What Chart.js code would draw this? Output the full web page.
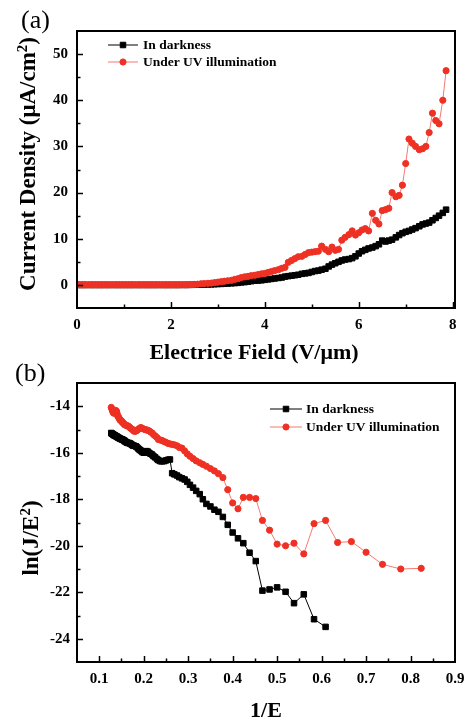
<!DOCTYPE html>
<html>
<head>
<meta charset="utf-8">
<script src="https://cdn.jsdelivr.net/npm/chart.js@4.4.1/dist/chart.umd.min.js"></script>
<style>
  html, body { margin: 0; padding: 0; background: #fff; }
  #fig { position: relative; width: 465px; height: 720px; overflow: hidden; font-family: 'Liberation Serif', 'DejaVu Serif', serif; color: #000; }
  canvas { position: absolute; left: 0; }
  .lbl { position: absolute; white-space: nowrap; }
  .panel { font-size: 26px; }
  .title { font-weight: bold; font-size: 22px; transform: translate(-50%, -50%); }
  .vtitle { font-weight: bold; font-size: 23px; transform: translate(-50%, -50%) rotate(-90deg); }
  sup { font-size: 0.65em; vertical-align: 0.55em; line-height: 0; }
</style>
</head>
<body>
<div id="fig">
  <canvas id="chartA" width="465" height="340" style="top:0"></canvas>
  <canvas id="chartB" width="465" height="340" style="top:360px"></canvas>

  <div class="lbl panel" style="left:21px; top:5px;">(a)</div>
  <div class="lbl vtitle" style="left:28px; top:164px;">Current Density (&mu;A/cm<sup>2</sup>)</div>
  <div class="lbl title" style="left:254px; top:352px;">Electrice Field (V/&mu;m)</div>

  <div class="lbl panel" style="left:15px; top:358px;">(b)</div>
  <div class="lbl vtitle" style="left:31px; top:538px;">ln(J/E<sup>2</sup>)</div>
  <div class="lbl title" style="left:266px; top:710px;">1/E</div>
</div>

<script>
// ---- panel (a): J vs E ----
const fieldE = [0, 0.07, 0.14, 0.21, 0.29, 0.36, 0.43, 0.5, 0.57, 0.64, 0.71, 0.79, 0.86, 0.93, 1.0,
  1.07, 1.14, 1.21, 1.29, 1.36, 1.43, 1.5, 1.57, 1.64, 1.71, 1.79, 1.86, 1.93, 2.0,
  2.07, 2.14, 2.21, 2.29, 2.36, 2.43, 2.5, 2.57, 2.64, 2.71, 2.79, 2.86, 2.93, 3.0,
  3.07, 3.14, 3.21, 3.29, 3.36, 3.43, 3.5, 3.57, 3.64, 3.71, 3.79, 3.86, 3.93, 4.0,
  4.07, 4.14, 4.21, 4.29, 4.36, 4.43, 4.5, 4.57, 4.64, 4.71, 4.79, 4.86, 4.93, 5.0,
  5.07, 5.14, 5.21, 5.29, 5.36, 5.43, 5.5, 5.57, 5.64, 5.71, 5.79, 5.86, 5.93, 6.0,
  6.07, 6.14, 6.21, 6.29, 6.36, 6.43, 6.5, 6.57, 6.64, 6.71, 6.79, 6.86, 6.93, 7.0,
  7.07, 7.14, 7.21, 7.29, 7.36, 7.43, 7.5, 7.57, 7.64, 7.71, 7.79, 7.86];

const darkJ = [0, 0, 0, 0, 0, 0, 0, 0, 0, 0, 0, 0, 0, 0, 0, 0, 0, 0, 0, 0,
  0, 0, 0, 0, 0, 0, 0, 0, 0, 0, 0, 0, 0, 0,
  0.02, 0.03, 0.05, 0.06, 0.08, 0.1, 0.12, 0.15, 0.2, 0.22, 0.25, 0.3, 0.35, 0.4, 0.45, 0.55,
  0.6, 0.7, 0.8, 0.9, 0.95, 1.0, 1.1, 1.2, 1.3, 1.4, 1.5, 1.6, 1.8, 1.9, 2.0, 2.1,
  2.2, 2.4, 2.5, 2.6, 2.8, 3.0, 3.1, 3.3, 3.5, 4.0, 4.4, 4.7, 5.0, 5.3, 5.5, 5.6,
  5.8, 6.2, 6.8, 7.3, 7.6, 7.9, 8.1, 8.4, 8.8, 9.6, 9.4, 9.6, 9.8, 10.3, 10.8, 11.2,
  11.5, 11.7, 12.0, 12.3, 12.7, 13.1, 13.3, 13.5, 14.0, 14.5, 15.0, 15.6, 16.3];

const uvJ = [0, 0, 0, 0, 0, 0, 0, 0, 0, 0, 0, 0, 0, 0, 0, 0, 0, 0, 0, 0,
  0, 0, 0, 0, 0, 0, 0, 0, 0, 0, 0,
  0.02, 0.03, 0.05, 0.06, 0.1, 0.15, 0.25, 0.3, 0.35, 0.4, 0.5, 0.6, 0.7, 0.8, 0.9, 1.0,
  1.2, 1.35, 1.6, 1.75, 1.85, 2.0, 2.1, 2.25, 2.4, 2.5, 2.7, 2.9, 3.1, 3.3, 3.6, 3.8,
  4.9, 5.3, 5.7, 6.1, 6.2, 6.6, 7.0, 7.1, 7.2, 7.3, 8.4, 7.7, 7.2, 8.2, 7.5, 7.7,
  9.7, 10.3, 10.9, 11.7, 10.8, 11.3, 11.9, 12.2, 11.7, 15.5, 14.0, 13.2, 16.1, 16.3, 16.6, 20.0,
  19.1, 19.4, 21.6, 26.3, 31.6, 30.7, 30.0, 29.3, 29.5, 30.0, 33.0, 37.2, 35.6, 34.9, 40.0, 46.4];

const ticksA_x = [0, 2, 4, 6, 8];
const ticksA_y = [0, 10, 20, 30, 40, 50];

// ---- panel (b): ln(J/E^2) vs 1/E ----
const invE = [0.127, 0.128, 0.130, 0.131, 0.132, 0.133, 0.135, 0.136, 0.137, 0.139,
  0.140, 0.141, 0.143, 0.144, 0.146, 0.147, 0.149, 0.151, 0.152, 0.154,
  0.156, 0.157, 0.159, 0.161, 0.163, 0.165, 0.167, 0.169, 0.171, 0.173,
  0.175, 0.177, 0.179, 0.182, 0.184, 0.187, 0.189, 0.192, 0.194, 0.197,
  0.200, 0.203, 0.206, 0.209, 0.212, 0.215, 0.219, 0.222, 0.226, 0.230,
  0.233, 0.237, 0.241, 0.246, 0.250, 0.255, 0.259, 0.264, 0.269, 0.275,
  0.280, 0.286, 0.292, 0.298, 0.304, 0.311, 0.318, 0.326, 0.333, 0.341,
  0.350, 0.359, 0.368, 0.378, 0.389, 0.400, 0.412, 0.424, 0.438, 0.452,
  0.467, 0.483, 0.500, 0.519, 0.538, 0.560, 0.583, 0.609, 0.636, 0.667,
  0.700, 0.737, 0.778, 0.824];

const darkLn = [-15.15, -15.17, -15.2, -15.2, -15.22, -15.25, -15.25, -15.27, -15.28, -15.3,
  -15.31, -15.33, -15.35, -15.36, -15.38, -15.4, -15.41, -15.42, -15.44, -15.45,
  -15.47, -15.5, -15.52, -15.55, -15.57, -15.58, -15.58, -15.6, -15.62, -15.65,
  -15.68, -15.7, -15.7, -15.72, -15.75, -15.8, -15.85, -15.88, -15.92, -15.97,
  -16.0, -15.96, -15.93, -15.95, -16.0, -16.04, -16.08, -16.15, -16.2, -16.27,
  -16.32, -16.36, -16.37, -16.36, -16.33, -16.3, -16.29, -16.88, -16.93, -16.98,
  -17.05, -17.1, -17.15, -17.25, -17.38, -17.5, -17.64, -17.78, -18.0, -18.2,
  -18.31, -18.45, -18.54, -18.76, -19.1, -19.43, -19.68, -19.89, -20.3, -20.66,
  -21.93, -21.88, -21.79, -21.98, -22.47, -22.09, -23.16, -23.49];

const uvLn = [-14.05, -14.1, -14.2, -14.25, -14.28, -14.3, -14.22, -14.2, -14.18, -14.22,
  -14.3, -14.4, -14.45, -14.5, -14.55, -14.6, -14.62, -14.65, -14.7, -14.72,
  -14.76, -14.8, -14.8, -14.82, -14.85, -14.85, -14.88, -14.92, -14.95, -14.98,
  -15.0, -15.05, -15.08, -15.07, -15.05, -15.0, -14.98, -14.93, -14.92, -14.95,
  -14.98, -15.0, -15.02, -15.03, -15.06, -15.1, -15.15, -15.22, -15.28, -15.35,
  -15.43, -15.45, -15.47, -15.52, -15.55, -15.6, -15.62, -15.64, -15.66, -15.7,
  -15.77, -15.8, -15.92, -16.05, -16.15, -16.25, -16.35, -16.43, -16.5, -16.58,
  -16.68, -16.78, -16.9, -17.07, -17.59, -18.16, -18.41, -17.92, -17.92, -17.97,
  -18.91, -19.33, -19.93, -20.0, -19.89, -20.35, -19.05, -18.91, -19.86, -19.82,
  -20.28, -20.8, -21.0, -20.97];

const ticksB_x = [0.1, 0.2, 0.3, 0.4, 0.5, 0.6, 0.7, 0.8, 0.9];
const ticksB_y = [-24, -22, -20, -18, -16, -14];

const seriesNames = ['In darkness', 'Under UV illumination'];

const BLACK = '#000000', RED = '#ee3124', RED_LINE = '#f27a72';
const FONT = 'Liberation Serif';

/* box round the plot, inward major/minor ticks, in-plot legend */
const framePlugin = {
  id: 'frame',
  afterDatasetsDraw(chart, args, opts) {
    const { ctx, chartArea: a, scales } = chart;
    ctx.save();
    ctx.strokeStyle = '#000';
    ctx.lineWidth = 1.5;
    ['x', 'y'].forEach(id => {
      const s = scales[id];
      const majors = s.ticks.map(t => t.value);
      const step = majors[1] - majors[0];
      const minors = [majors[0] - step / 2];
      majors.forEach(v => minors.push(v + step / 2));
      const draw = (v, len) => {
        if (v <= s.min + 1e-9 || v >= s.max - 1e-9) return;
        const p = Math.round(s.getPixelForValue(v)) + 0.5;
        ctx.beginPath();
        if (id === 'x') { ctx.moveTo(p, a.bottom); ctx.lineTo(p, a.bottom - len); }
        else { ctx.moveTo(a.left, p); ctx.lineTo(a.left + len, p); }
        ctx.stroke();
      };
      majors.forEach(v => draw(v, 6));
      minors.forEach(v => draw(v, 3.5));
    });
    ctx.lineWidth = 2;
    ctx.strokeRect(a.left, a.top, a.right - a.left, a.bottom - a.top);

    // legend
    ctx.font = `bold ${opts.size}px ${FONT}`;
    ctx.textBaseline = 'middle';
    chart.data.datasets.forEach((ds, i) => {
      const y = opts.ys[i];
      ctx.strokeStyle = ds.borderColor;
      ctx.lineWidth = 1;
      ctx.beginPath(); ctx.moveTo(opts.x1, y); ctx.lineTo(opts.x2, y); ctx.stroke();
      ctx.fillStyle = ds.pointBackgroundColor;
      ctx.strokeStyle = ds.pointBorderColor;
      Chart.helpers.drawPoint(ctx, {
        pointStyle: ds.pointStyle, radius: ds.pointRadius, borderWidth: 1
      }, (opts.x1 + opts.x2) / 2, y);
      ctx.fillStyle = '#000';
      ctx.fillText(ds.label, opts.tx, y + 1);
    });
    ctx.restore();
  }
};

function darkSet(pts) {
  return {
    label: seriesNames[0], data: pts, order: 1,
    borderColor: BLACK, borderWidth: 1,
    pointStyle: 'rect', pointRadius: 3.9, pointBorderWidth: 1,
    pointBackgroundColor: BLACK, pointBorderColor: BLACK
  };
}
function uvSet(pts) {
  return {
    label: seriesNames[1], data: pts, order: 0,
    borderColor: RED_LINE, borderWidth: 1,
    pointStyle: 'circle', pointRadius: 3.1, pointBorderWidth: 1,
    pointBackgroundColor: RED, pointBorderColor: RED
  };
}

function axis(min, max, ticks, fmt, isX, size, pad) {
  return {
    type: 'linear', min, max,
    grid: { display: false, drawTicks: false },
    border: { display: false },
    afterBuildTicks: s => { s.ticks = ticks.map(v => ({ value: v })); },
    afterFit: s => {
      if (isX) { s.height = size; s.paddingLeft = 0; s.paddingRight = 0; }
      else { s.width = size; s.paddingTop = 0; s.paddingBottom = 0; }
    },
    ticks: {
      autoSkip: false, maxRotation: 0, padding: pad, color: '#000',
      font: { family: FONT, weight: 'bold', size: 15 },
      callback: fmt
    }
  };
}

function makeChart(id, datasets, xs, ys, padTop, legend) {
  return new Chart(document.getElementById(id), {
    type: 'line',
    data: { datasets },
    options: {
      responsive: false, animation: false,
      layout: { padding: { top: padTop, right: 10, left: 0, bottom: 0 } },
      plugins: { legend: { display: false }, tooltip: { enabled: false }, frame: legend },
      scales: { x: xs, y: ys }
    },
    plugins: [framePlugin]
  });
}

const ptsA = (vals) => vals.map((v, i) => ({ x: fieldE[i], y: v }));
const ptsB = (vals) => vals.map((v, i) => ({ x: invE[i], y: v }));

makeChart('chartA', [darkSet(ptsA(darkJ)), uvSet(ptsA(uvJ))],
  axis(0, 8.05, ticksA_x, v => String(v), true, 32, 8),
  axis(-5, 55, ticksA_y, v => String(v), false, 77, 9),
  31,
  { x1: 108, x2: 138, tx: 143, ys: [45, 62], size: 13.5 });

makeChart('chartB', [darkSet(ptsB(darkLn)), uvSet(ptsB(uvLn))],
  axis(0.05, 0.9, ticksB_x, v => v.toFixed(1), true, 38, 8),
  axis(-25, -13, ticksB_y, v => String(v), false, 77, 7),
  23,
  { x1: 270, x2: 302, tx: 306, ys: [49, 67], size: 13.5 });
</script>
</body>
</html>
